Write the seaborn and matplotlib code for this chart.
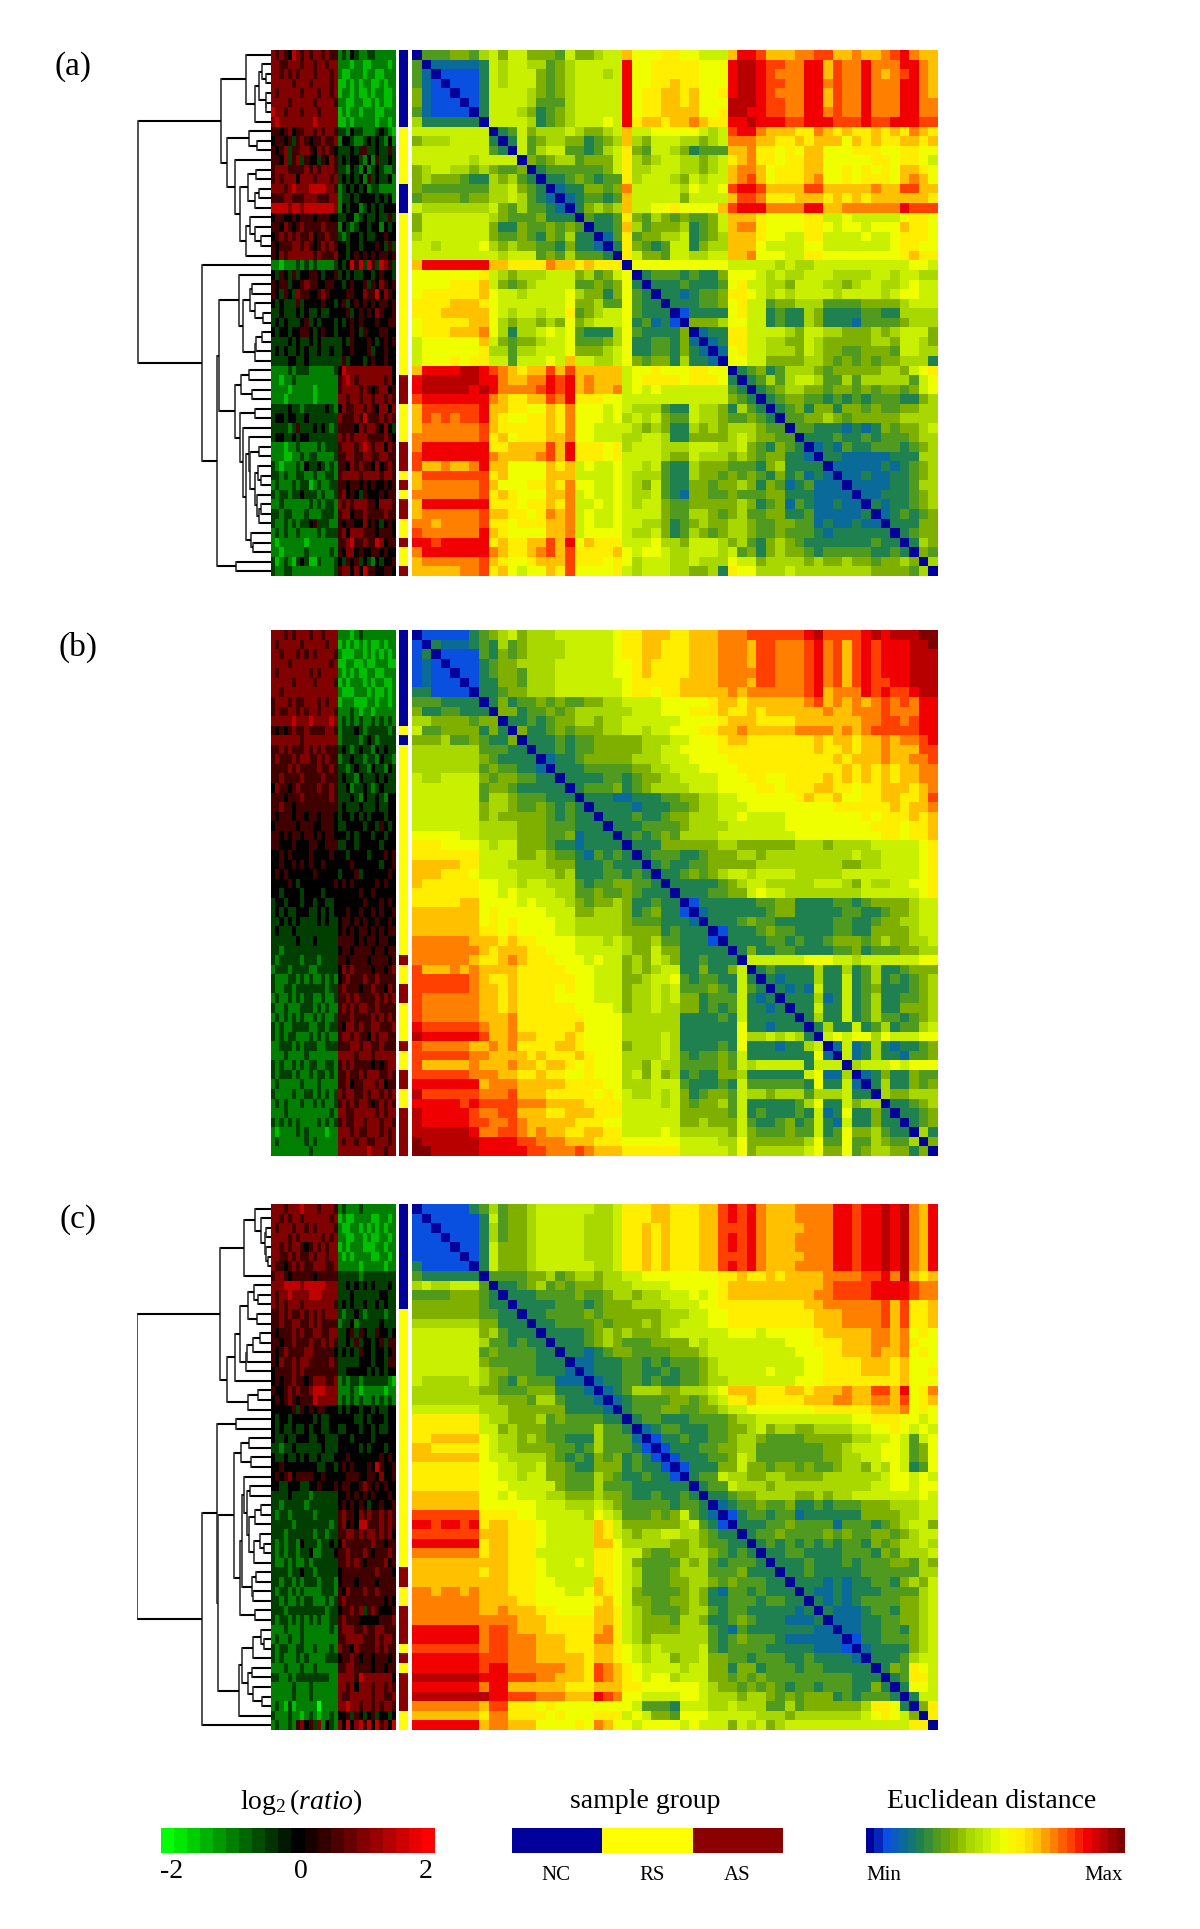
import numpy as np
import matplotlib
matplotlib.use('Agg')
import matplotlib.pyplot as plt
from matplotlib.colors import LinearSegmentedColormap, ListedColormap
import seaborn as sns

sns.set_theme(style='white')
plt.rcParams['font.family'] = ['Liberation Serif', 'DejaVu Serif']
plt.rcParams['mathtext.fontset'] = 'custom'
plt.rcParams['mathtext.rm'] = 'Liberation Serif'
plt.rcParams['mathtext.it'] = 'Liberation Serif:italic'

W, H = 1200, 1929
N = 55

# distance levels, one hex digit per cell, upper triangle only (row i starts at column i)
DIST_A = [
    "04445546 75775554 755677 a 8889988777 addcaaabbccaabaabcdbaa",
    "0222223 76776645 677777 d 8899999888 deedccbbddacbbdbbbddba",
    "011113 76777545 677767 d 8899999888 deedcbbbddacbbdbabcdba",
    "01113 76777545 677777 d 8899a99888 deedccbbddbcbbdbbbddba",
    "0113 77776545 677777 d 899aa9a889 deedcbbbddacbbdbbbddba",
    "013 77776444 677777 d 899aa9a888 eeedccbbddacbbdbbbddbb",
    "03 77765345 677777 d 899aaaa889 eeddccbbddbcbbdbbbddbb",
    "0 77776345 677787 d 9aa9aaba99 ddedddccdddcccdccdddcc",
    "03475666 765567 a 7788888767 cddbaaa99ba9a99a9a9ba9",
    "0374566 553456 a 6577766567 bbbaa99a9aaa8a9a99aa9a",
    "074677 443467 9 5477653444 aab99898aa88899988 9988",
    "05456 645557 9 6567766567 9ab99899aa888889989987",
    "0344 444457 9 6677766567 abba8999aa88989898aa98",
    "033 454344 9 6777657677 abca8999ab88989998aba8",
    "02 335545 b 7777768778 cddcaaaaccaaaaabaaccaa",
    "0 234434 a 7777757777 accb999aaa9a9a9aaaaaa9",
    "035656 a 7788988 88a cdddbbbbddaabbbbbbdccc",
    "04334 9 5465454457 aaa9888899778777778998",
    "0334 a 6455563457 abb98888998788788 8a998",
    "024 9 4556673456 aaa98877997777877 89998",
    "03 9 5434773566 aaa87777887777777899 88",
    "0 9 7554776677 aab8887799888888889a99",
    "0 8888888888 777776766777777777 7887",
    "0344434335 888767667776666776 7766",
    "033343334 8977665777665677 66 7877",
    "03323445 99876767777 67777 6 7 8877",
    "0333445 8977455666444455556777",
    "013333 8977343365333344336666",
    "05556 8877343365333244445666",
    "0233 9977776577665556567775",
    "023 9977665576555556657765",
    "02 8977666576554455547766",
    "0 8877555566545454556663",
    "0345346665455555665789",
    "034646776446466 6 66 4 78",
    "03456 655 4 5 5 4 5 4 5 5 4 5 7 8",
    "03455443 43 4 3 4 4 4 3 3 5 6",
    "034535 5 3 5 5 4 5 4 4 5 5 6 6",
    "04455 6 5 4 5 5 5 5 5 6 6 6 6",
    "0443332323 5 4 5 5 6 7",
    "033343343 4 4 4 5 6 6",
    "02324334 4 4 3 4 5 6",
    "033222 2 2 3 3 3 6 6",
    "022222 3 2 3 4 5 6",
    "022322 3 3 4 5 6",
    "022223 3 4 6 6",
    "022333 4 5 6",
    "032334 5 6",
    "0234345",
    "033355",
    "03455",
    "0365",
    "054",
    "06",
    "0",
]

DIST_B = [
    "0111113456 7566677777 7899aaa99a aabbbccccc cdeccccded eeeff",
    "032223436 4566667777 7899aa999a aabbbaccbb bcdbcacdcd ddeef",
    "01111435 4566667777 7899aa999a aabbbaccbb bcdbcacdcd ddeee",
    "0111345 5666677777 7889a9999a aabbbaccbb bcdbcacdcd ddeee",
    "011345 5466677777 7889a9999a aabbbbccbb bcdbcacdcd ddeee",
    "01335 5466677777 77899999aa aabbbaccbb bcdbcacdcc ddeee",
    "0334 5566677777 77899899aa aaababbbbb bcdabbbdcd ccdee",
    "035 3445454455 6677778888 89aa9aaaaa abcabababc bcbdd",
    "05 5344545666 6667778889 99a99a9aaa aaabaabbbc bbbdd",
    "0 3343455665 6677777788 889aaa9999 aaaaaaabbc cbcdd",
    "0533454555 6677677888 99aabaaaaa bbbbababcc cccdd",
    "033343445 5555666778 889aa99999 99a9aa9aab abbcd",
    "03343445 5555667788 8899999999 99a99a9aab aaacc",
    "0233455 5556667778 8889999999 9999a9aaab aabbc",
    "033344 4445566777 8888999999 99999a9a9a 9aabb",
    "03333 4434556677 7788899889 999a9a9a9a 9aabb",
    "0344 4534566667 7788889989 99aa99899a aa9ab",
    "033 3223334455 6677888888 9a99a8899a a99ac",
    "03 3332333445 6677788888 8888999999 a9aab",
    "0 3334334556 6677877778 8888888989 99a9a",
    "0333444456 6667777778 8888888899 9899a",
    "034345466 6677777777 8888888889 9899a",
    "03335555 5566555555 6665666677 77789",
    "0344433 4555665666 6666667667 77789",
    "034334 4555556666 6666655667 77789",
    "03345 4567767777 6666677777 77789",
    "0333 3345677666 6677765766 77889",
    "033 3445578776 6666666777 77789",
    "01 3333334455 3333443455 55677",
    "0 2333333455 3333344334 55677",
    "0333454433 3333443345 56677",
    "013334544 3333443355 55677",
    "03333443 4334555456 55667",
    "0353344 3333445344 45566",
    "077777 7888776777 77788",
    "03433 3363363463 34555",
    "0323 3363373463 43456",
    "032 3273373453 33456",
    "03 3362373463 34456",
    "0 3373373463 35556",
    "0363373464 43456",
    "036337346 34467",
    "07878868 77788",
    "0272363 23345",
    "072363 32445",
    "06777 87888",
    "0235 33544",
    "036 33545",
    "06 55666",
    "0 33456",
    "03345",
    "0345",
    "063",
    "05",
    "0",
]

DIST_C = [
    "0111113464 5567777776 6799 9aa999 aacdcdbaaa bbbbddcdde debad",
    "011111374 5567777766 6799 9aa999 aacdcdbaaa bbbbddcdde debad",
    "01111364 5567777766 6799a9a999 aacccdbaaa abbbddcdde debad",
    "0111364 5567777766 6799a9a999 aacdcdbaaa bbbbddcdde debad",
    "011375 5567777766 6799a9a999 aacdcdbaaa bbbbddcdde debad",
    "01375 5567777766 6799a9a999 aacccdbaaa abbbddcdde debad",
    "0375 5567777776 6799a9a999 aacdcdbaaa bbbbddcdde debad",
    "044 4455645665 6677888888 8899a99a9a aaabbbbccd bea9a",
    "03 3456454555 6667777888 889aaaaaaa aaabccccdd ddcbb",
    "0 3334444544 5665667778 789aaaaaaa aabbccccdd ddcbb",
    "0333344434 5556666777 8899999999 9aabbbbbbc ac99a",
    "033444454 5555556667 7889999999 99aaabbbbc ac99a",
    "03344445 4555656677 7889999999 99aaabbbbc ac99a",
    "0333345 6565556777 7778887888 889aaaaabb ab898",
    "033345 6544455557 6777777778 88999aaabb ab988",
    "03323 4554444555 6777777777 88899aaaba ab898",
    "0223 3344343444 5677777777 7889999aaa 9a888",
    "023 3344334344 5677777877 7889999aaa 9a889",
    "02 3344343344 5667777777 8889999999 9a888",
    "0 2346665566 678aaa999a a9aaabaacc ad89b",
    "0234444554 56799a9999 9aaabbaabb ac89a",
    "034445544 5567788888 88999999aa ab898",
    "03443334 4445667777 7777778899 98878",
    "0234433 3445567566 5566667788 98787",
    "013343 3445665444 4555556677 87478",
    "01333 4455664444 4445567778 87458",
    "0133 3445764444 4445566778 87458",
    "013 3355755455 4544566576 87348",
    "03 4476655665 5556666667 88787",
    "0 3447666566 6666666677 88788",
    "0334556666 5565667777 77787",
    "023445445 3343444555 66677",
    "01344344 2333333555 56677",
    "0333445 4444244434 56775",
    "034454 4445454455 45677",
    "03434 3434344354 56676",
    "0334 4333344435 46667",
    "033 3433343444 55465",
    "03 3433333444 44466",
    "0 3332323344 35657",
    "0322323334 44467",
    "032323444 45567",
    "03222344 35567",
    "0222334 45567",
    "022334 43567",
    "01334 44567",
    "0233 33567",
    "033 34677",
    "03 54987",
    "0 34997",
    "03887",
    "0377",
    "059",
    "09",
    "0",
]

# log2 ratio per cell: digit 0 = -2, 4 = 0, 8 = +2 (left array block, right array block)
EXPR_A = [
    "6565476565665655 23243223322222",
    "6655666566566566 22212211222212",
    "6656565666566656 21122212211222",
    "6666656665666656 11212122112122",
    "6566666566656656 12212112122112",
    "6666566666566665 22112211212112",
    "7665666566656666 12122122211222",
    "6766666666766666 11212222212212",
    "5545645566565665 33243322234321",
    "4554535654556556 24432234343242",
    "5456355665465654 33343553343353",
    "5546356354435465 34344324253343",
    "5666555565656665 33243242343223",
    "5656664666566656 34343425343342",
    "6665676667777665 23434342332222",
    "5556655566655566 23343444434342",
    "7777677677777776 24344234343444",
    "4554454555455544 33442343343353",
    "5546545655556555 24323443442434",
    "4565656556455655 32344343344544",
    "5455566565456565 44344344454353",
    "5465666666565556 44345454545545",
    "2212223232322223 43475737537653",
    "4354353445543445 34343344345443",
    "5455344565544554 43454453546545",
    "5435436554456544 44554465574654",
    "4343335344445443 45345454545545",
    "3343334343343344 44534545465445",
    "3434333453434443 43454544454455",
    "4344344554345443 44454354445544",
    "3333434334343333 34354445434545",
    "3434334343343343 34454445344544",
    "3333443343333333 35344434544544",
    "2222323332222223 47666666666664",
    "2212232222222222 56765666666564",
    "2222122222122222 56666565456645",
    "2221222222122222 66566566566565",
    "3333433233333432 46556656546646",
    "3443443343333333 65556575556565",
    "3333235333434323 55554656654643",
    "3443343443333333 65656665555654",
    "2221223222232333 56665676566465",
    "2221122323322223 55665566556655",
    "3212223243343232 55465655464565",
    "3323223322322332 56666566665665",
    "2322232331232233 55455454544545",
    "3233233433323223 56454354445455",
    "2232222223232332 65656665546665",
    "3323322232223332 56645565555655",
    "3223232334533322 54554464543454",
    "2323223222232333 56466655545554",
    "2122222212222222 55675565576455",
    "2212222232222232 54664544554544",
    "3123213431132223 43545343243445",
    "3223322222222223 56646475544554",
]

EXPR_B = [
    "6665656665665666 22212322222222",
    "6566666566666566 12121212112122",
    "6656665656566665 21112212121212",
    "6666566666666656 11221121122211",
    "6566666665656666 21212112211222",
    "6666656666566665 12122212122112",
    "6656666666666666 21112221211212",
    "5666565566656566 12221112212212",
    "5655665656656665 22232122122222",
    "6666676667666676 23232322323232",
    "5454565565555665 23334323333323",
    "6666666566666666 23333234323333",
    "5565655565656555 34323433243433",
    "5655565665565655 23343323324332",
    "5555656555565565 33234332433243",
    "5565555655556555 34332433343433",
    "4655456555565565 33423343234333",
    "5554555655555565 33343243343244",
    "5565545555555555 34333433343344",
    "5455545545545554 34434343444344",
    "4555554555445554 33444434435434",
    "5545455455454554 44343444344344",
    "5544454445544555 33443444443444",
    "4454544445444454 44344443444545",
    "4454454545445444 44454444443445",
    "4545444444544444 34445344444454",
    "4444543444444445 45454444454544",
    "4434444344443444 44444544544444",
    "3443444344344334 44444454445454",
    "3434334443343434 44544544545445",
    "3343434333343433 45545454454454",
    "3433343333333333 45454554545455",
    "3333334333433333 55554545545544",
    "3323333333333333 45545555455455",
    "3233333233323333 55455554555545",
    "2333233332233333 46565555455456",
    "3222332323223232 45655565565555",
    "3223323333333233 56555455655465",
    "2322323233223223 55656555565656",
    "3223222333232322 56565665565555",
    "2323232322323223 55565555656565",
    "3232233332233233 54665655665556",
    "3232332223232322 56656554656655",
    "2233323233322333 55566566556555",
    "2223222232222222 66665666566666",
    "3232232323322332 56565555454566",
    "3233323223233232 55655656665565",
    "2322222322232222 55645566656455",
    "3222232233232323 65665565665656",
    "2323222322323223 56565665456565",
    "2223222222222232 66556666656566",
    "3232323222232323 56556656665665",
    "2122223232222122 66656556665656",
    "2322222232322222 65665665566656",
    "2222222223222222 66666667666566",
]

EXPR_C = [
    "6665666766656665 23222322222222",
    "6656566566666656 12112222112212",
    "6566656656566665 21122121212122",
    "6666565666665656 22112212112212",
    "6656566545656566 12122211122122",
    "6655656556566566 21212222112212",
    "6554565655666556 22222122222122",
    "5665455555455555 33333233333333",
    "6667777677777666 33434343433343",
    "6566766667776666 33343333334433",
    "6565666566666665 34343343343433",
    "5565655656565666 32334323333233",
    "5565566556565555 23342333334333",
    "5455565655665566 33453543354434",
    "5545565556556565 33435344345355",
    "5456555566555554 34343544344345",
    "5465565665555565 33333444344355",
    "4555565655555555 33444443434344",
    "4545565545666556 23233233333321",
    "5445656556777666 22232122222122",
    "4545654555766666 23232322323232",
    "4444453545455444 34344344343344",
    "4344344444343344 44443343444344",
    "4343343343443344 33444344343344",
    "4334334443344333 44434444344444",
    "3323343333334333 44444343444344",
    "4334334343343334 44544444445454",
    "4454444444433443 45454445475445",
    "4545645555445444 44555445546445",
    "4433444334454445 45544565454544",
    "3333433332333333 44545454544454",
    "3323333323333333 45454543445445",
    "3233233333233333 56554656556565",
    "3333323333333323 56454775556565",
    "3332333333233233 55665656656564",
    "3232332433323343 46555555655455",
    "3232332334223334 55655565455565",
    "3223232232333333 55656545555645",
    "3333233433233333 45555555565554",
    "3323323233323332 45554555545555",
    "3233232322223332 54655565565555",
    "3323223233222323 56555555555454",
    "3332333333333233 45565635654445",
    "3233232323232233 56555444445556",
    "2223222322222232 56665565566555",
    "2322322322222222 55666655565665",
    "3233223322322232 65546555565655",
    "3232223232222333 45565455455545",
    "2223222322322222 55665555455455",
    "3322323333333322 66665766666664",
    "2222232223222222 66564666566565",
    "2222232223222222 65566666566556",
    "2321312222202222 66766566565665",
    "3222322123212232 44535434534434",
    "2322325645362432 64746757475647",
]

# tree nodes are [height, upper child, lower child], 0 is a leaf
TREE_A = [399,
    [151,
        [76, 0, [47, [36, [27, 0, [16, 0, 0]], [16, 0, [16, 0, 0]]], 0]],
        [131,
            [67, 0, [42, 0, 0]],
            [109, 0,
                [92,
                    [69, [44, 0, 0], [49, [37, 0, 0], 0]],
                    [74, [64, 0, [49, 0, [31, 0, 0]]], 0]]]]],
    [206, 0,
        [161,
            [157,
                [97, 0, [84, [64, [57, 0, 0], [49, 0, [24, 0, 0]]], [49, [44, [27, 0, 0], 0], 0]]],
                [109,
                    [89, [66, 0, 0], [57, 0, 0]],
                    [94, [47, 0, 0],
                        [84, 0,
                            [76,
                                [67, 0, [62, [36, 0, 0], [49, [40, 0, [30, 0, 0]], [42, 0, [36, [30, 0, 0], 0]]]]],
                                [59, 0, [55, 0, 0]]]]]]],
            [104, 0, 0]]]]

TREE_C = [401,
    [154,
        [81, [47, 0, [29, 0, [18, [14, 0, 0], [14, 0, [10, 0, 0]]]]], 0],
        [132,
            [109,
                [94,
                    [69, [51, 0, [39, 0, 0]], [41, 0, 0]],
                    [74, [72, [55, [33, 0, 0], 0], 0], 0]],
                0],
            [69, [39, 0, 0], 0]]],
    [206,
        [163,
            [104, 0, 0],
            [159,
                [111,
                    [89, [66, 0, 0], [59, 0, 0]],
                    [94,
                        [88,
                            [80, 0, [72, [62, 0, 0], [66, [48, [30, 0, 0], 0], [52, [34, 0, [22, 0, 0]], 0]]]],
                            [57, [46, 0, 0], [55, 0, 0]]],
                        [47, 0, 0]]],
                [97,
                    [87,
                        [54, [30, 0, [20, 0, 0]], 0],
                        [69, [57, 0, 0], [54, 0, [28, 0, 0]]]],
                    0]]],
        0]]

# sample group runs from top to bottom: 0 NC, 1 RS, 2 AS
GROUPS_A = [(0, 8), (1, 6), (0, 3), (1, 17), (2, 3), (1, 4), (2, 3), (1, 1), (2, 1), (1, 1),
            (2, 2), (1, 2), (2, 1), (1, 2), (2, 1)]
GROUPS_B = [(0, 10), (1, 1), (0, 1), (1, 22), (2, 1), (1, 2), (2, 2), (1, 4), (2, 1), (1, 2),
            (2, 2), (1, 2), (2, 5)]
GROUPS_C = [(0, 11), (1, 27), (2, 2), (1, 2), (2, 4), (1, 1), (2, 1), (1, 1), (2, 4), (1, 2)]

PANEL_LABELS = ['(a)', '(b)', '(c)']
RATIO_LEVELS = [-2, -1.8, -1.6, -1.4, -1.2, -1, -0.8, -0.6, -0.4, -0.2, 0,
                0.2, 0.4, 0.6, 0.8, 1, 1.2, 1.4, 1.6, 1.8, 2]
GROUP_LEVELS = [0, 1, 2]
GROUP_NAMES = ['NC', 'RS', 'AS']
DIST_LEVELS = [0, 0.5, 1, 1.5, 2, 2.5, 3, 3.5, 4, 4.5, 5, 5.5, 6, 6.5, 7, 7.5, 8, 8.5,
               9, 9.5, 10, 10.5, 11, 11.5, 12, 12.5, 13, 13.5, 14, 14.5, 15]

dist_colors = ['#00009a', '#0a50e0', '#0a6a9a', '#1f8050', '#4f9a1f', '#7fb000', '#a8d800', '#c8f000',
               '#f0ff00', '#ffee00', '#ffc000', '#ff8000', '#ff4000', '#f00000', '#b80000', '#800000']
dist_cmap = LinearSegmentedColormap.from_list('dist', dist_colors, N=256)
ratio_cmap = LinearSegmentedColormap.from_list('ratio', ['#00ff00', '#000000', '#ff0000'], N=256)
group_cmap = ListedColormap(['#00009a', '#ffff00', '#8b0000'])


def px_axes(fig, x0, y0, x1, y1):
    ax = fig.add_axes([x0 / W, 1 - y1 / H, (x1 - x0) / W, (y1 - y0) / H])
    return ax


def dist_matrix(rows):
    m = np.zeros((N, N))
    for i, s in enumerate(rows):
        s = s.replace(' ', '')
        n = N - i
        s = s[:n].ljust(n, s[-1])
        for k, c in enumerate(s):
            m[i, i + k] = int(c, 16)
            m[i + k, i] = int(c, 16)
    return m


def expr_matrix(rows):
    return np.array([[(int(c) - 4) / 2 for c in r.replace(' ', '')] for r in rows])


def group_column(runs):
    vals = []
    for g, n in runs:
        vals += [g] * n
    return np.array(vals).reshape(-1, 1)


def draw_tree(ax, node, counter):
    # returns (height, y) of this node
    if node == 0:
        counter[0] += 1
        return 0, counter[0] - 0.5
    h, a, b = node
    ha, ya = draw_tree(ax, a, counter)
    hb, yb = draw_tree(ax, b, counter)
    ax.plot([ha, h], [ya, ya], color='black', lw=1.5, solid_capstyle='butt')
    ax.plot([hb, h], [yb, yb], color='black', lw=1.5, solid_capstyle='butt')
    ax.plot([h, h], [ya, yb], color='#333333', lw=1.2, solid_capstyle='projecting')
    return h, (ya + yb) / 2


def plain_heat(ax, data, cmap, vmin, vmax):
    sns.heatmap(data, ax=ax, cmap=cmap, vmin=vmin, vmax=vmax, cbar=False,
                xticklabels=False, yticklabels=False)


fig = plt.figure(figsize=(W / 100, H / 100), dpi=100, facecolor='white')

panels = [
    (50, EXPR_A, GROUPS_A, DIST_A, TREE_A, (73, 67)),
    (630, EXPR_B, GROUPS_B, DIST_B, None, (78, 647)),
    (1204, EXPR_C, GROUPS_C, DIST_C, TREE_C, (78, 1220)),
]

for (top, expr, groups, dist, tree, lab), name in zip(panels, PANEL_LABELS):
    bottom = top + 526
    plain_heat(px_axes(fig, 271, top, 396, bottom), expr_matrix(expr), ratio_cmap, -2, 2)
    plain_heat(px_axes(fig, 399, top, 408, bottom), group_column(groups), group_cmap, 0, 2)
    plain_heat(px_axes(fig, 412, top, 938, bottom), dist_matrix(dist), dist_cmap, 0, 15)
    if tree is not None:
        ax = px_axes(fig, 137, top, 271, bottom)
        draw_tree(ax, tree, [0])
        ax.set_xlim(402, 0)
        ax.set_ylim(N, 0)
        ax.axis('off')
    fig.text(lab[0] / W, 1 - lab[1] / H, name, fontsize=24, ha='center', va='center', color='black')

# legends
bar_top, bar_bottom = 1828, 1853
plain_heat(px_axes(fig, 161, bar_top, 435, bar_bottom), np.array([RATIO_LEVELS]), ratio_cmap, -2, 2)
plain_heat(px_axes(fig, 512, bar_top, 783, bar_bottom), np.array([GROUP_LEVELS]), group_cmap, 0, 2)
plain_heat(px_axes(fig, 866, bar_top, 1125, bar_bottom), np.array([DIST_LEVELS]), dist_cmap, 0, 15)


def label(x, y, s, size):
    fig.text(x / W, 1 - y / H, s, fontsize=size, ha='center', va='center', color='black')


label(301, 1802, r'$\mathrm{log}_{2}\,(\mathit{ratio})$', 20)
label(645, 1802, 'sample group', 20)
label(992, 1802, 'Euclidean distance', 20)
label(172, 1872, '-2', 20)
label(301, 1872, '0', 20)
label(426, 1872, '2', 20)
for x, s in zip([556, 652, 737], GROUP_NAMES):
    label(x, 1875, s, 15)
label(884, 1875, 'Min', 15)
label(1104, 1875, 'Max', 15)

fig.savefig('out.png', dpi=100, facecolor='white')
